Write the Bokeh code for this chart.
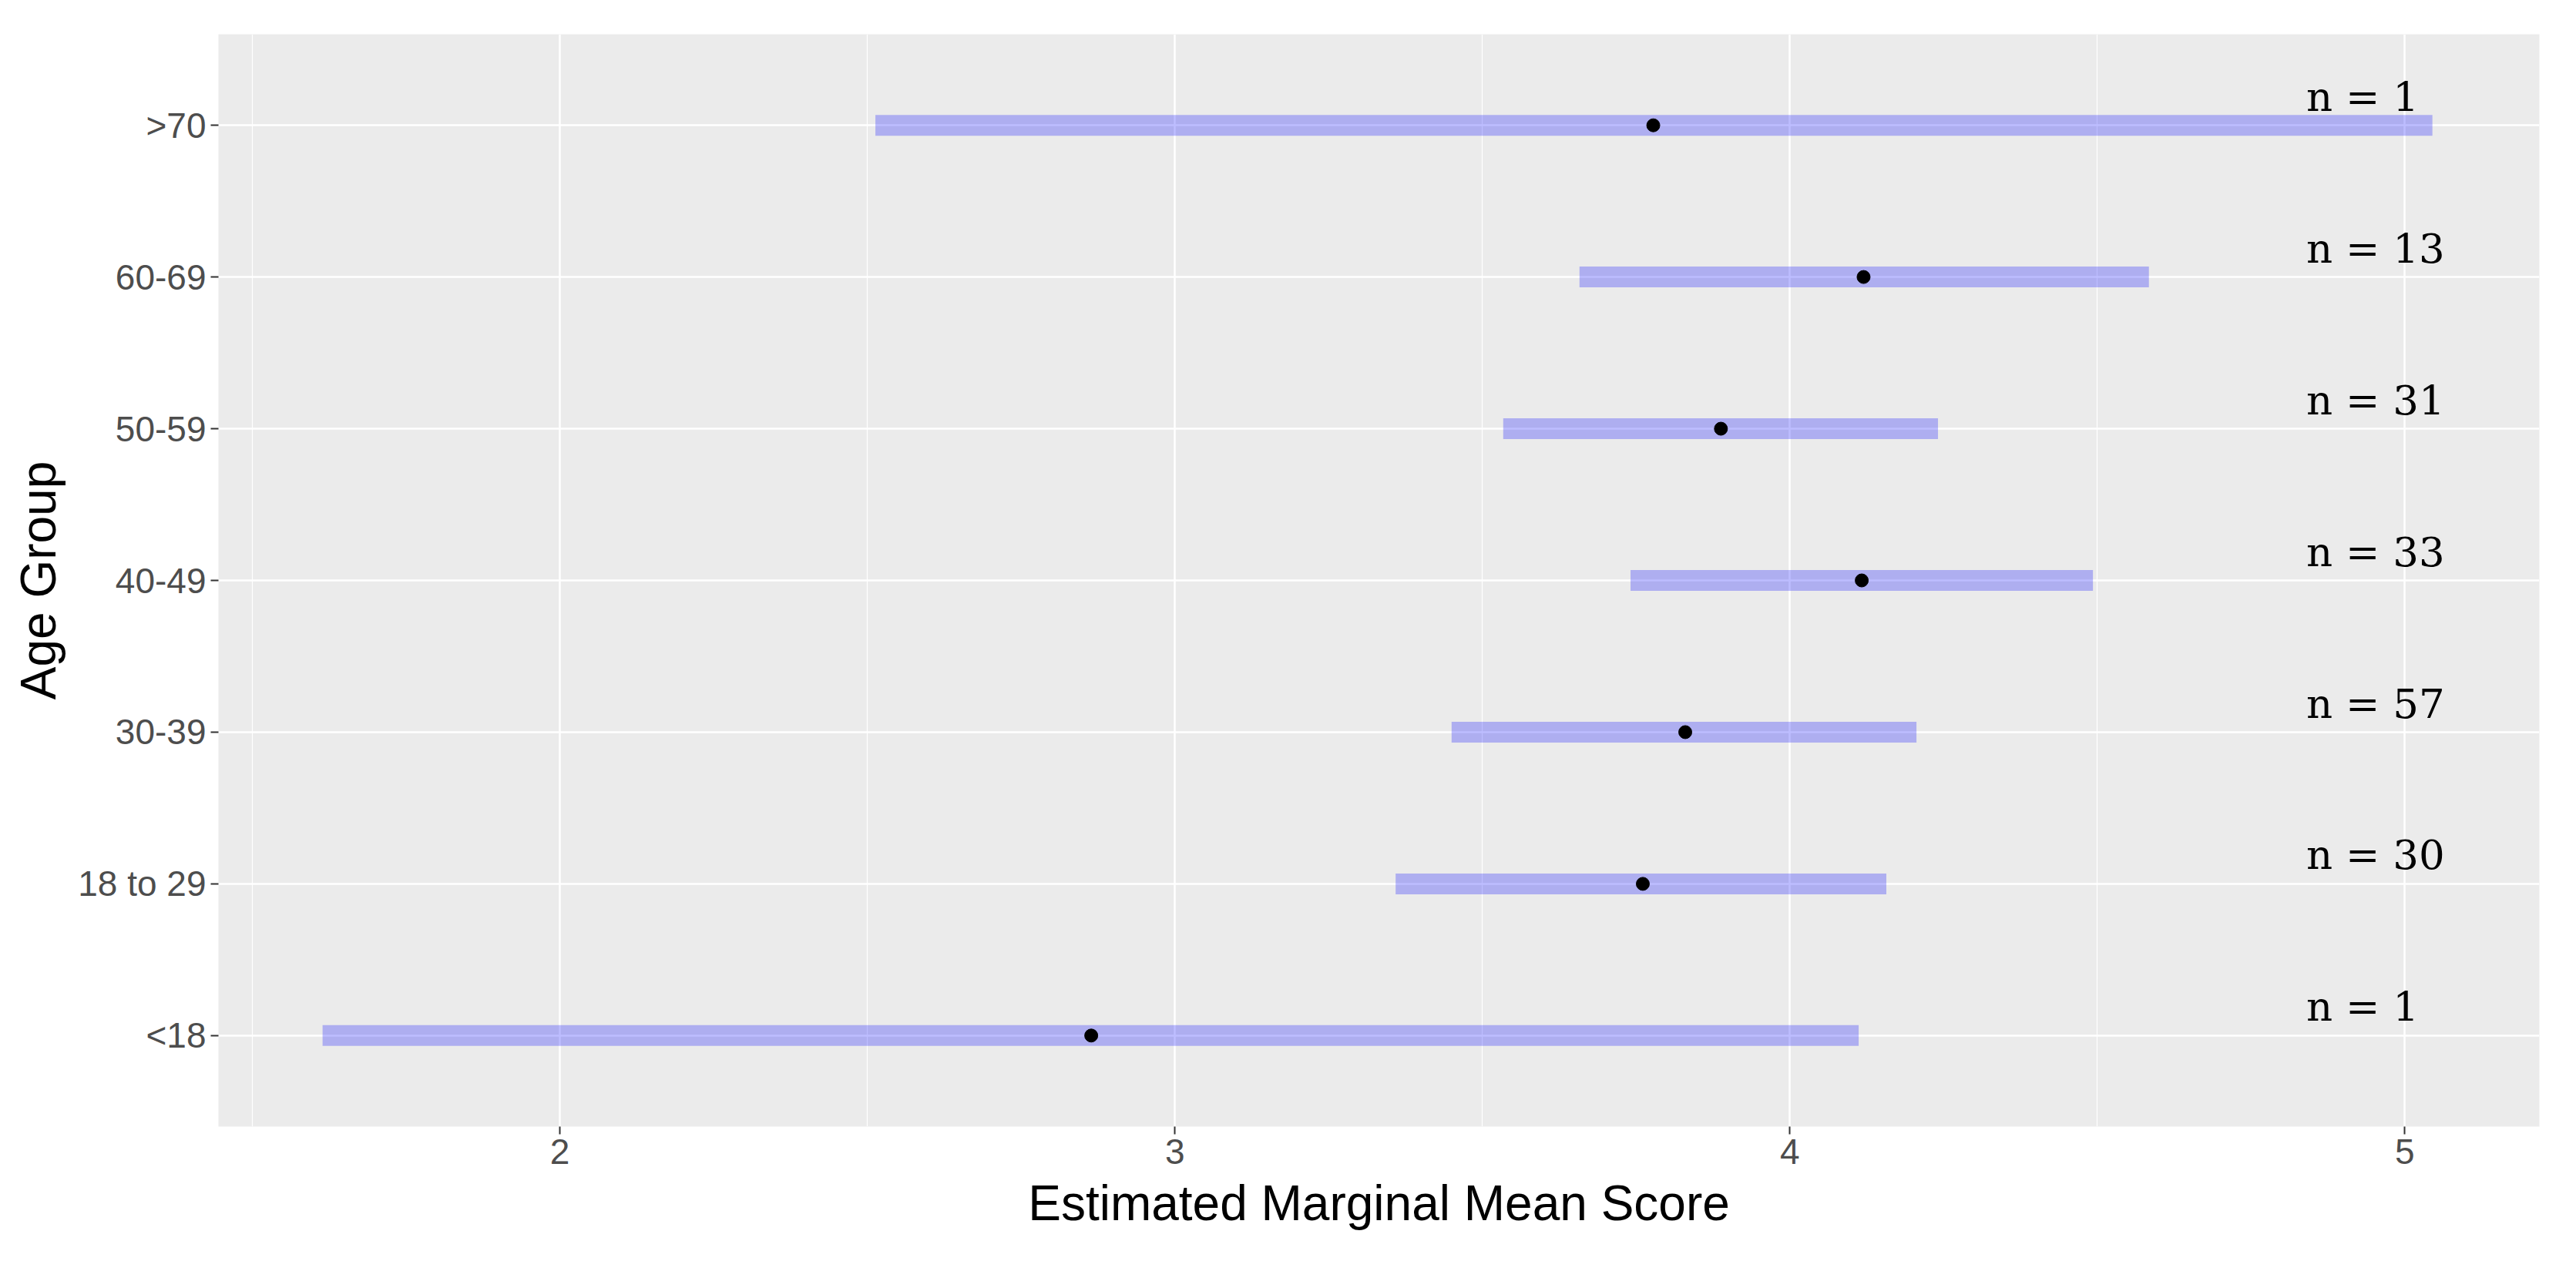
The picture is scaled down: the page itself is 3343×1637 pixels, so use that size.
from bokeh.plotting import figure
from bokeh.models import Range1d, FixedTicker, ColumnDataSource
from bokeh.core.properties import value
from bokeh.embed import file_html
from bokeh.resources import INLINE

# Data (bottom to top)
age_groups = ["<18", "18 to 29", "30-39", "40-49", "50-59", "60-69", ">70"]
emmean = [2.864, 3.761, 3.830, 4.117, 3.888, 4.120, 3.778]
lower_cl = [1.614, 3.359, 3.450, 3.741, 3.534, 3.658, 2.513]
upper_cl = [4.112, 4.157, 4.206, 4.493, 4.241, 4.584, 5.045]
n_labels = ["n = 1", "n = 30", "n = 57", "n = 33", "n = 31", "n = 13", "n = 1"]
x_ticks = [2, 3, 4, 5]
x_minor = [1.5, 2.5, 3.5, 4.5]

pos = list(range(len(age_groups)))
label_x = 4.84
label_shift = 0.19

src = ColumnDataSource(dict(
    y=pos, mean=emmean, lo=lower_cl, hi=upper_cl,
    ty=[p_ + label_shift for p_ in pos], tx=[label_x] * len(pos), txt=n_labels,
))

W, H = 3327, 1621
p = figure(width=W, height=H, output_backend="svg", toolbar_location=None,
           x_range=Range1d(1.4447, 5.219), y_range=Range1d(-0.6, 6.6),
           min_border_left=283, min_border_right=32, min_border_top=44,
           min_border_bottom=159)

p.background_fill_color = "#EBEBEB"
p.border_fill_color = "white"
p.outline_line_color = None

p.xaxis.ticker = FixedTicker(ticks=x_ticks, minor_ticks=x_minor)
p.yaxis.ticker = FixedTicker(ticks=pos)
p.yaxis.major_label_overrides = {i: g for i, g in zip(pos, age_groups)}

p.xgrid.grid_line_color = "white"
p.xgrid.grid_line_width = 2.5
p.xgrid.minor_grid_line_color = "white"
p.xgrid.minor_grid_line_width = 1.2
p.ygrid.grid_line_color = "white"
p.ygrid.grid_line_width = 2.5

for ax in (p.xaxis[0], p.yaxis[0]):
    ax.axis_line_color = None
    ax.major_tick_line_color = "#333333"
    ax.major_tick_line_width = 2
    ax.major_tick_out = 10
    ax.major_tick_in = 0
    ax.minor_tick_out = 0
    ax.minor_tick_in = 0
    ax.major_label_text_font = "Liberation Sans"
    ax.major_label_text_font_size = "46px"
    ax.major_label_text_color = "#4D4D4D"
    ax.major_label_standoff = 6
    ax.axis_label_text_font = "Liberation Sans"
    ax.axis_label_text_font_size = "64px"
    ax.axis_label_text_font_style = "normal"
    ax.axis_label_text_color = "black"
    ax.axis_label_standoff = 12

p.xaxis.axis_label = "Estimated Marginal Mean Score"
p.yaxis.axis_label = "Age Group"

p.segment(x0="lo", x1="hi", y0="y", y1="y", source=src,
          line_color="blue", line_alpha=0.26, line_width=27, line_cap="butt")
p.scatter(x="mean", y="y", source=src, size=17, color="black")
p.text(x="tx", y="ty", text="txt", source=src,
       text_font=value("DejaVu Serif"), text_font_size="53px",
       text_color="black", text_align="left", text_baseline="middle")

open("out.html", "w").write(file_html(p, INLINE))
